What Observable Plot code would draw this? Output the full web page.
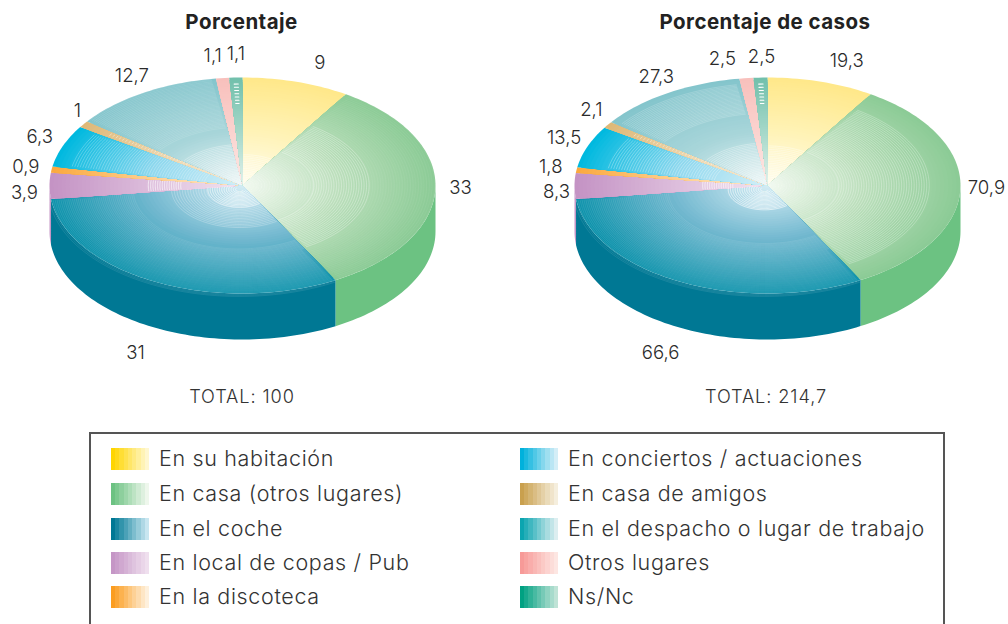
<!DOCTYPE html>
<html><head><meta charset="utf-8">
<script src="https://cdn.jsdelivr.net/npm/d3@7"></script>
<script src="https://cdn.jsdelivr.net/npm/@observablehq/plot@0.6"></script>
<style>
html,body{margin:0;padding:0;background:#fff;width:1008px;height:624px;overflow:hidden;font-family:Inter,sans-serif;color:#333}
.panel{position:absolute;top:0;width:504px;height:410px}
.panel svg{position:absolute;left:0;top:40px;overflow:visible}
.ttl{position:absolute;top:9px;font-weight:700;font-size:20.5px;letter-spacing:.45px;line-height:26px;color:#222;transform:translateX(-50%);white-space:nowrap}
.tot{position:absolute;top:385px;font-size:18.2px;letter-spacing:.9px;line-height:22px;font-weight:300;transform:translateX(-50%);white-space:nowrap}
#legend{position:absolute;left:89px;top:432px;width:852px;height:200px;border:2px solid #555;box-sizing:content-box}
.it{position:absolute;height:22px;white-space:nowrap;font-size:21.5px;letter-spacing:.66px;line-height:22px;font-weight:300;color:#333}
.sw{position:absolute;left:0;top:0;width:38px;height:22px}
.tx{position:absolute;left:48px;top:-1px;}
</style></head><body>
<div id="a" class="panel" style="left:0"></div>
<div id="b" class="panel" style="left:504px"></div>
<div id="legend"></div>
<script>
// ---- data ----
const categories = ["En su habitación","En casa (otros lugares)","En el coche","En local de copas / Pub","En la discoteca","En conciertos / actuaciones","En casa de amigos","En el despacho o lugar de trabajo","Otros lugares","Ns/Nc"];
const porcentaje = [9,33,31,3.9,0.9,6.3,1,12.7,1.1,1.1];
const porcentajeLabels = ["9","33","31","3,9","0,9","6,3","1","12,7","1,1","1,1"];
const casos = [19.3,70.9,66.6,8.3,1.8,13.5,2.1,27.3,2.5,2.5];
const casosLabels = ["19,3","70,9","66,6","8,3","1,8","13,5","2,1","27,3","2,5","2,5"];
// ---- colours ----
const rimColors = ["#ffe88a","#8ccb96","#0e92ab","#c493c4","#fba93f","#00b9df","#deb978","#84c5cc","#f8c0bc","#72c0ac"];
const midColors = ["#fff3b8","#bcdfbc","#74b9d0","#dcbcdb","#fdcf90","#8fd8ee","#ecd6ae","#a9d6da","#fbd3cf","#a6d8c9"];
const hubColors = ["#fffdf0","#f4faf2","#d6edf5","#f3e4f0","#fee9cf","#d6f0f8","#f6eddd","#f2f8f8","#fdeae6","#e3f2ec"];
const wallColors = ["#ffd500","#6cc282","#007894","#c596c6","#fb9d20","#00b1dc","#c9a04e","#0ba5b0","#f79a98","#00a182"];
const swatchPale = ["#fff7cf","#eef7ec","#c8e6f0","#efdfee","#fef0dc","#d4eef7","#f5eedd","#dceef0","#fde6e2","#bfe3d6"];
// ---- layout ----
const RX = 193, RY = 108, DEPTH = 46, CY = 145, H = 320, W = 504;
// white ring bands per slice: [r0, r1, spacing, opacity, width]
const ringsA = [
 [[.03,.3,.016,.7,.5]],
 [[.03,.37,.014,.28,.5],[.37,.66,.013,.6,.5],[.66,1,.014,.1,.5]],
 [[.02,.17,.012,.95,.7],[.17,.36,.014,.5,.5],[.55,1,.01,.2,.5]],
 [[.32,.49,.012,.9,.7]],
 [],
 [[.2,.91,.014,.5,.5]],
 [[.35,.85,.02,.6,.7]],
 [[.03,.39,.014,.65,.5],[.54,1,.012,.25,.5]],
 [],
 [[.76,.95,.03,1,1.1]]];
const ringsB = [
 [[.03,.38,.016,.7,.5]],
 [[.03,.37,.014,.25,.5],[.37,.85,.013,.55,.5]],
 [[.02,.2,.012,.95,.7],[.5,1,.01,.2,.5]],
 [[.18,.34,.012,.9,.7]],
 [],
 [[.28,.85,.014,.6,.5]],
 [[.35,.85,.02,.6,.7]],
 [[.03,.4,.014,.65,.5],[.67,.95,.012,.4,.5]],
 [],
 [[.76,.95,.03,1,1.1]]];
// label nudges in px
const nudgeA = [[16,-1],[-2,-1],[-7,55],[2,7],[1,0],[2,-2],[16,-3],[2,-1],[-7,-4],[1,-5]];
const nudgeB = [[18,-3],[-1,-1],[-7,55],[9,6],[1,0],[2,-2],[6,-5],[3,-1],[-21,-1],[2,-3]];

const rad = d => d * Math.PI / 180;
function arc(a0, a1, r, off=[0,0]) {
  const n = Math.max(2, Math.ceil((a1 - a0) / 1.5));
  return d3.range(n + 1).map(i => {
    const t = rad(a0 + (a1 - a0) * i / n);
    return {u: off[0] + r * Math.sin(t), v: off[1] + r * Math.cos(t)};
  });
}
function pie(el, values, labels, rings, nudge, cx, title, total, totalX, titleX) {
  const sum = d3.sum(values);
  let c = 0;
  const spans = values.map(v => { const s = {a0: c / sum * 360}; c += v; s.a1 = c / sum * 360; s.mid = (s.a0 + s.a1) / 2; return s; });
  const walls = [], faces = [], lines = [];
  spans.forEach((s, i) => {
    const w0 = Math.max(s.a0, 90), w1 = Math.min(s.a1, 270);
    if (w1 > w0) {
      const top = arc(w0, w1, 1);
      const bot = top.map(p => ({u: p.u, v: p.v - DEPTH / RY})).reverse();
      [...top, ...bot].forEach(p => walls.push({...p, z: i, fill: wallColors[i]}));
    }
    const col = d3.scaleLinear().domain([1, .5, 0]).range([rimColors[i], midColors[i], hubColors[i]]).interpolate(d3.interpolateRgb);
    d3.range(48, 0, -1).forEach(k => {
      const r = k / 48;
      [{u: 0, v: 0}, ...arc(s.a0, s.a1, r)].forEach(p => faces.push({...p, z: i + "-" + k, fill: col(r)}));
    });
    const off = i === 2 ? [-3 / RX, -4 / RY] : [0, 0];
    rings[i].forEach(([r0, r1, step, op, sw], b) => {
      for (let r = r0, k = 0; r < r1; r += step, k++) {
        const pts = i === 2 ? arc(s.a0 - 40, s.a1 + 40, r, off) : arc(s.a0, s.a1, r);
        pts.filter(p => { let t = Math.atan2(p.u, p.v) * 180 / Math.PI; if (t < 0) t += 360; return t >= s.a0 + .2 && t <= s.a1 - .2; })
           .forEach(p => lines.push({...p, z: [i, b, k].join("-"), op, sw}));
      }
    });
  });
  const texts = labels.map((t, i) => {
    const th = rad(spans[i].mid);
    return Plot.text([{u: 1.14 * Math.sin(th), v: 1.167 * Math.cos(th), t}], {
      x: "u", y: "v", text: "t", dx: nudge[i][0], dy: nudge[i][1], fontSize: 18.6, fontWeight: 300, fill: "#2a2a2a"
    });
  });
  const styles = d3.groups(lines, d => d.op + "|" + d.sw);
  const plot = Plot.plot({
    width: W, height: H, margin: 0,
    x: {domain: [-cx / RX, (W - cx) / RX], axis: null},
    y: {domain: [(CY - H) / RY, CY / RY], axis: null},
    color: {type: "identity"},
    style: {fontFamily: "Inter, sans-serif", background: "transparent", overflow: "visible"},
    marks: [
      Plot.line(walls, {x: "u", y: "v", z: "z", fill: "fill", stroke: "none"}),
      Plot.line(faces, {x: "u", y: "v", z: "z", fill: "fill", stroke: "none"}),
      ...styles.map(([, pts]) => Plot.line(pts, {x: "u", y: "v", z: "z", fill: "none", stroke: "white", strokeWidth: pts[0].sw, strokeOpacity: pts[0].op})),
      ...texts
    ]
  });
  const host = document.getElementById(el);
  host.appendChild(plot);
  const a = document.createElement("div"); a.className = "ttl"; a.style.left = titleX + "px"; a.textContent = title; host.appendChild(a);
  const b = document.createElement("div"); b.className = "tot"; b.style.left = totalX + "px"; b.textContent = total; host.appendChild(b);
}
pie("a", porcentaje, porcentajeLabels, ringsA, nudgeA, 242, "Porcentaje", "TOTAL: 100", 242, 241.5);
pie("b", casos, casosLabels, ringsB, nudgeB, 263, "Porcentaje de casos", "TOTAL: 214,7", 262, 261);

// ---- legend ----
const lg = document.getElementById("legend");
const rowTop = [14, 49, 84, 118, 152];
categories.forEach((name, i) => {
  const col = i < 5 ? 0 : 1, row = i % 5;
  const it = document.createElement("div"); it.className = "it";
  it.style.left = (col ? 429 : 20) + "px"; it.style.top = rowTop[row] + "px";
  const bands = 9, ip = d3.interpolateRgb(wallColors[i], swatchPale[i]);
  const stops = d3.range(bands).map(k => `${ip(k / (bands - 1))} ${k / bands * 100}% ${(k + 1) / bands * 100}%`).join(",");
  it.innerHTML = `<span class="sw" style="background:linear-gradient(90deg,${stops})"></span><span class="tx"></span>`;
  it.querySelector(".tx").textContent = name;
  lg.appendChild(it);
});
</script></body></html>
